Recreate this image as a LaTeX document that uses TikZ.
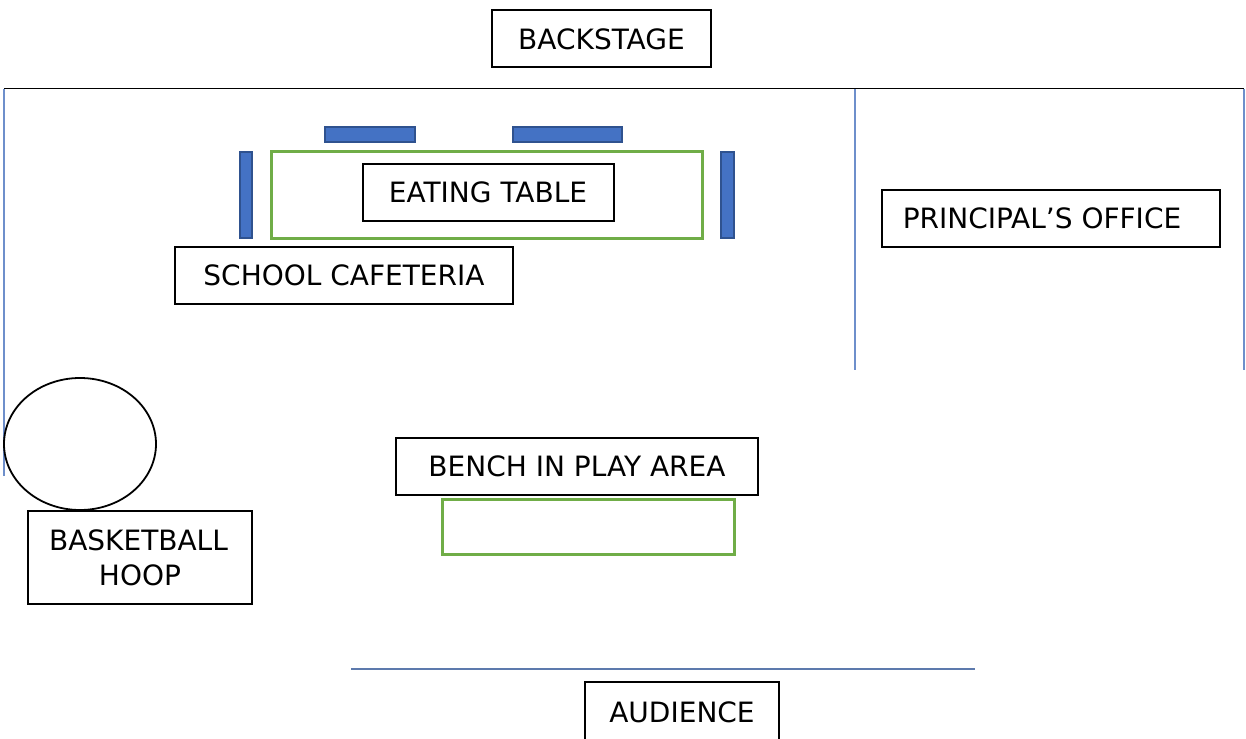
\documentclass[tikz,border=0pt]{standalone}
\usepackage{fontspec}
\setmainfont{DejaVu Sans}
\definecolor{chairfill}{HTML}{4472C4}
\definecolor{chairedge}{HTML}{2F528F}
\definecolor{tablegreen}{HTML}{70AD47}
\definecolor{wallblue}{HTML}{6E8FCB}
\begin{document}
\begin{tikzpicture}[x=1pt,y=-1pt,
 label box/.style={draw=black,line width=2pt,fill=white,anchor=center,inner sep=0pt,font=\fontsize{28}{35}\selectfont,align=center},
 wall/.style={draw=wallblue,line width=1.2pt},
 chair/.style={draw=chairedge,fill=chairfill,line width=2pt},
 tbl/.style={draw=tablegreen,line width=3pt}]
\useasboundingbox (0,0) rectangle (1246,738);
\draw[wall] (4,476) -- (4,89);
\draw[wall] (855,89) -- (855,370);
\draw[wall] (1244,89) -- (1244,370);
\draw[black,line width=1pt] (4,89) -- (1244,89);
\draw[wall,draw=wallblue!85!black,line width=1.1pt] (351,669) -- (975,669);
\draw[chair] (325,127) rectangle (415,142);
\draw[chair] (513,127) rectangle (622,142);
\draw[chair] (240,152) rectangle (252,238);
\draw[chair] (721,152) rectangle (734,238);
\draw[tbl] (271,152) rectangle (702,238);
\draw[tbl] (442,499) rectangle (734,554);
\draw[black,line width=1.8pt] (80,444) ellipse (76 and 66);
\node[label box,minimum width=219pt,minimum height=57pt] (back) at (601.5,39) {BACKSTAGE};
\node[label box,minimum width=251pt,minimum height=57pt] (eat) at (488,192.5) {EATING TABLE};
\node[label box,minimum width=338pt,minimum height=57pt] (caf) at (344,275.5) {SCHOOL CAFETERIA};
\node[label box,minimum width=338pt,minimum height=57pt] (off) at (1051,218) {\hspace*{-18pt}PRINCIPAL’S OFFICE};
\node[label box,minimum width=362pt,minimum height=57pt] (bench) at (577,466) {BENCH IN PLAY AREA};
\node[label box,minimum width=224pt,minimum height=93pt] (hoop) at (140,557.5) {\hspace*{-3pt}BASKETBALL\\HOOP};
\node[label box,minimum width=194pt,minimum height=60pt] (aud) at (682,712) {AUDIENCE};
\end{tikzpicture}
\end{document}
